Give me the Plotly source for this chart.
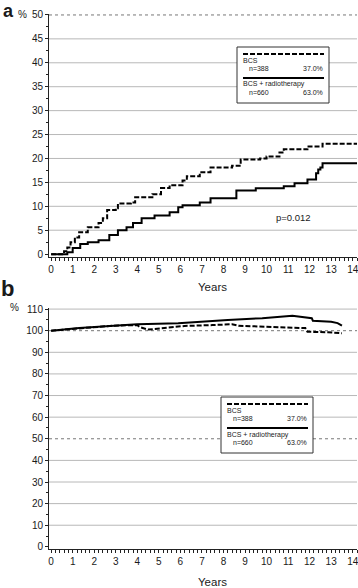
import plotly.graph_objects as go

W, H = 358, 588

# ---------------- data ----------------
# Panel a: cumulative incidence (%), step functions
a_bcs_years = [0, 0.6, 0.75, 0.9, 1.1, 1.3, 1.7, 2.2, 2.4, 2.6, 3.0, 3.1, 3.7, 3.9, 4.4, 4.7,
               5.1, 5.5, 6.1, 6.3, 6.9, 7.4, 8.4, 8.8, 9.7, 10.0, 10.6, 10.8, 11.9, 12.6, 14.2]
a_bcs_vals = [0, 0.6, 1.4, 2.5, 3.5, 4.6, 5.6, 6.5, 7.5, 9.2, 9.6, 10.6, 10.8, 11.9, 11.9, 12.5,
              13.8, 14.4, 15.4, 16.3, 17.1, 18.1, 18.5, 19.8, 20.0, 20.4, 21.25, 21.9, 22.5, 23.1, 23.1]

a_rt_years = [0, 0.75, 1.0, 1.35, 1.7, 2.2, 2.7, 3.1, 3.5, 3.8, 4.2, 4.8, 5.1, 5.5, 5.9, 6.1,
              6.9, 7.4, 8.6, 9.5, 10.8, 11.3, 11.9, 12.3, 12.4, 12.5, 12.6, 14.2]
a_rt_vals = [0, 0.4, 1.3, 2.1, 2.5, 2.9, 4.0, 5.0, 5.6, 6.5, 7.5, 8.1, 8.1, 8.75, 9.8, 10.2,
             10.8, 11.7, 13.3, 13.75, 14.2, 14.8, 15.6, 16.9, 17.7, 18.1, 19.0, 19.0]

# Panel b: relative survival (%)
b_bcs_years = [0, 1.3, 2.85, 4.0, 4.1, 4.5, 5.2, 6.2, 7.5, 8.4, 8.7, 10.5, 11.8, 11.9, 12.85, 13.5]
b_bcs_vals = [100, 101.2, 102.3, 102.6, 101.7, 100.5, 101.2, 102.2, 102.6, 103.0, 102.3, 101.7,
              101.2, 99.5, 99.3, 98.8]

b_rt_years = [0, 1.3, 4.0, 5.9, 8.2, 9.8, 11.2, 12.1, 12.15, 13.0, 13.3, 13.5]
b_rt_vals = [100, 101.2, 103.0, 103.5, 105.0, 105.8, 106.9, 105.8, 104.6, 104.1, 103.5, 102.3]

x_ticks = list(range(0, 15))
a_y_ticks = list(range(0, 55, 5))
b_y_ticks = list(range(0, 120, 10))
a_dotted = [50]
b_dotted = [50, 100]

legend_rows = [("BCS", "n=388", "37.0%"), ("BCS + radiotherapy", "n=660", "63.0%")]
p_text = "p=0.012"

# ---------------- helpers ----------------
def px(x):
    return x / W

def py(y):
    return 1 - y / H

FONT = "Liberation Sans, Arial, sans-serif"
TXT = "#1a1a1a"
DASH = "5px,2px"

fig = go.Figure()

fig.add_trace(go.Scatter(x=a_bcs_years, y=a_bcs_vals, mode="lines", line_shape="hv",
                         line=dict(color="black", width=2, dash=DASH), xaxis="x", yaxis="y",
                         showlegend=False, hoverinfo="skip"))
fig.add_trace(go.Scatter(x=a_rt_years, y=a_rt_vals, mode="lines", line_shape="hv",
                         line=dict(color="black", width=2), xaxis="x", yaxis="y",
                         showlegend=False, hoverinfo="skip"))
fig.add_trace(go.Scatter(x=b_bcs_years, y=b_bcs_vals, mode="lines",
                         line=dict(color="black", width=2, dash=DASH), xaxis="x2", yaxis="y2",
                         showlegend=False, hoverinfo="skip"))
fig.add_trace(go.Scatter(x=b_rt_years, y=b_rt_vals, mode="lines",
                         line=dict(color="black", width=2), xaxis="x2", yaxis="y2",
                         showlegend=False, hoverinfo="skip"))

xdom = [px(49), px(357)]
common_x = dict(range=[-0.1, 14.2], tickvals=x_ticks, showgrid=False, zeroline=False,
                showline=True, linecolor="#222", linewidth=1, ticks="outside", ticklen=3,
                tickcolor="#222", tickfont=dict(family=FONT, size=10, color=TXT),
                minor=dict(dtick=0.2, ticks="outside", ticklen=3, tickcolor="#222"),
                domain=xdom, automargin=False, ticklabeloverflow="allow")
common_y = dict(showgrid=False, zeroline=False, showline=True, linecolor="#222", linewidth=1,
                ticks="outside", ticklen=3, tickcolor="#222", automargin=False,
                ticklabeloverflow="allow",
                tickfont=dict(family=FONT, size=10, color=TXT))

fig.update_layout(
    template="none",
    width=W, height=H, margin=dict(l=0, r=0, t=0, b=0, autoexpand=False),
    paper_bgcolor="white", plot_bgcolor="white", showlegend=False,
    xaxis=dict(**common_x, anchor="y"),
    yaxis=dict(**common_y, range=[-0.6, 50.2], tickvals=a_y_ticks, anchor="x",
               domain=[py(257), py(14)],
               minor=dict(dtick=2.5, ticks="outside", ticklen=2, tickcolor="#222")),
    xaxis2=dict(**common_x, anchor="y2"),
    yaxis2=dict(**common_y, range=[-1, 110.5], tickvals=b_y_ticks, anchor="x2",
                domain=[py(549), py(308)],
                minor=dict(dtick=5, ticks="outside", ticklen=2, tickcolor="#222")),
)

shapes = []
# gridlines
for vals, dotted, yref, xref in [(a_y_ticks, a_dotted, "y", "x domain"),
                                 (b_y_ticks, b_dotted, "y2", "x2 domain")]:
    for v in vals:
        if v == 0:
            continue
        if v in dotted:
            ln = dict(color="#777", width=1, dash="dot")
        else:
            ln = dict(color="#b8b8b8", width=1)
        shapes.append(dict(type="line", xref=xref, yref=yref, x0=0, x1=1, y0=v, y1=v,
                           line=ln, layer="below"))

annotations = []
LF = 7

def legend_box(ox, oy):
    shapes.append(dict(type="rect", xref="paper", yref="paper",
                       x0=px(ox), x1=px(ox + 92), y0=py(oy), y1=py(oy + 56),
                       line=dict(color="#333", width=1), fillcolor="white", layer="above"))
    for i, (name, n, pct) in enumerate(legend_rows):
        base = oy + i * 24
        shapes.append(dict(type="line", xref="paper", yref="paper",
                           x0=px(ox + 6), x1=px(ox + 87), y0=py(base + 7), y1=py(base + 7),
                           line=dict(color="black", width=2, dash=DASH if i == 0 else "solid"),
                           layer="above"))
        annotations.append(dict(text=name, x=px(ox + 5), y=py(base + 13.5), xref="paper",
                                yref="paper", xanchor="left", yanchor="middle", showarrow=False,
                                borderpad=0, font=dict(family=FONT, size=LF, color=TXT)))
        annotations.append(dict(text=n, x=px(ox + 11), y=py(base + 21.5), xref="paper",
                                yref="paper", xanchor="left", yanchor="middle", showarrow=False,
                                borderpad=0, font=dict(family=FONT, size=LF, color=TXT)))
        annotations.append(dict(text=pct, x=px(ox + 87), y=py(base + 21.5), xref="paper",
                                yref="paper", xanchor="right", yanchor="middle", showarrow=False,
                                borderpad=0, font=dict(family=FONT, size=LF, color=TXT)))

legend_box(237, 47)
legend_box(221, 397)

def txt(t, x, y, size, bold=False, xanchor="center"):
    annotations.append(dict(text=f"<b>{t}</b>" if bold else t, x=px(x), y=py(y),
                            xref="paper", yref="paper", xanchor=xanchor, yanchor="middle",
                            showarrow=False, borderpad=0,
                            font=dict(family=FONT, size=size, color=TXT)))

txt("a", 8, 11, 18, bold=True)
txt("%", 22, 15, 10)
txt("Years", 212, 287, 11.5)
txt(p_text, 293, 217, 9.5)
txt("b", 7, 289, 22, bold=True)
txt("%", 15, 307, 10)
txt("Years", 212, 582, 11.5)

fig.update_layout(shapes=shapes, annotations=annotations)
fig.write_html("out.html", config={"displayModeBar": False},
               post_script="document.body.style.margin='0';document.body.style.padding='0';"
                           "document.body.style.overflow='hidden';")
